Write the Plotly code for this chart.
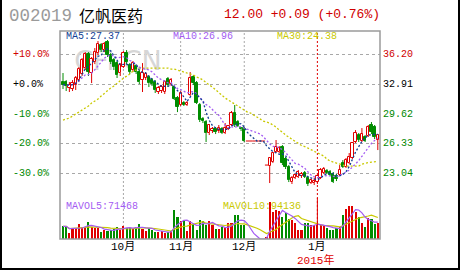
import plotly.graph_objects as go
import pandas as pd

# ---------------- data ----------------
opens = [33.16, 33.16, 32.50, 32.39, 32.83, 33.38, 34.05, 34.71, 36.26, 34.16,
         35.37, 36.37, 37.26, 36.70, 37.59, 36.15, 35.60, 35.26, 34.16, 34.82,
         36.37, 35.04, 34.49, 34.93, 34.27, 33.38, 33.61, 33.72, 33.38, 33.16,
         32.06, 32.17, 32.06, 33.50, 32.94, 32.61, 31.39, 30.62, 30.84, 30.62,
         31.72, 33.72, 33.05, 30.62, 29.07, 28.74, 27.52, 27.74, 27.96, 27.74,
         27.96, 27.52, 27.96, 28.41, 29.73, 28.74, 28.07, 28.07, 26.64, 26.64,
         26.64, 26.64, 26.64, 26.64, 23.98, 23.87, 24.31, 25.42, 25.42, 25.97,
         24.65, 23.76, 22.10, 22.55, 22.66, 22.77, 23.10, 22.55, 21.99, 21.99,
         22.10, 22.55, 23.10, 23.32, 23.21, 22.99, 22.77, 22.88, 24.20, 23.76,
         24.20, 24.76, 26.53, 27.30, 26.64, 27.08, 27.19, 28.41, 28.19, 26.75]
highs = [34.16, 33.38, 33.16, 33.38, 33.83, 34.82, 35.82, 36.48, 36.48, 35.93,
         36.92, 37.70, 37.48, 37.59, 37.81, 36.37, 35.82, 35.49, 35.26, 36.59,
         36.70, 35.26, 35.49, 35.15, 34.49, 35.26, 34.27, 33.94, 33.61, 33.38,
         32.72, 32.83, 33.38, 33.72, 33.61, 32.83, 31.61, 32.17, 31.06, 31.06,
         34.27, 33.94, 33.27, 30.84, 29.29, 28.96, 28.52, 28.19, 28.19, 28.41,
         28.19, 28.63, 28.41, 29.96, 30.62, 28.96, 28.19, 28.19, 26.64, 26.64,
         26.64, 26.64, 26.64, 26.64, 23.98, 24.87, 25.42, 26.75, 26.08, 26.19,
         24.87, 23.98, 22.77, 22.99, 23.43, 23.21, 23.32, 22.77, 22.43, 22.55,
         22.88, 23.65, 23.76, 23.54, 23.43, 23.21, 22.99, 23.98, 24.53, 24.76,
         25.31, 26.53, 27.85, 27.52, 28.07, 27.30, 28.41, 28.74, 28.41, 27.41]
lows = [32.39, 32.17, 32.06, 32.17, 32.28, 33.16, 33.83, 34.49, 33.83, 33.05,
        35.15, 36.15, 36.48, 36.48, 35.93, 35.15, 34.49, 33.61, 33.83, 34.71,
        35.15, 34.05, 34.27, 34.05, 32.94, 32.06, 33.38, 32.61, 32.72, 31.95,
        31.84, 31.95, 31.84, 32.61, 32.72, 31.17, 29.84, 30.51, 30.51, 30.51,
        31.61, 32.83, 30.73, 28.74, 28.63, 26.53, 27.30, 27.52, 27.41, 27.52,
        27.41, 27.41, 27.85, 28.30, 28.19, 28.19, 27.74, 26.53, 26.64, 26.64,
        26.64, 26.64, 26.64, 26.64, 23.98, 21.99, 24.20, 25.31, 25.31, 23.98,
        23.54, 22.10, 21.88, 22.43, 22.55, 22.55, 22.55, 21.66, 21.88, 21.77,
        21.88, 22.43, 22.99, 22.99, 22.77, 21.99, 22.21, 22.77, 23.65, 23.65,
        24.09, 24.65, 26.42, 26.53, 26.53, 26.53, 27.08, 27.41, 26.86, 25.64]
closes = [32.88, 32.77, 32.83, 33.05, 33.61, 34.60, 35.60, 36.26, 34.27, 35.71,
          36.48, 37.37, 36.70, 37.37, 36.15, 35.37, 34.82, 33.94, 35.04, 36.37,
          35.37, 34.27, 35.26, 34.27, 33.16, 34.16, 34.05, 33.05, 32.94, 32.28,
          32.50, 32.61, 33.16, 32.83, 33.38, 31.28, 30.40, 31.95, 30.62, 30.84,
          33.61, 33.05, 30.84, 28.96, 28.85, 27.52, 28.41, 27.96, 27.63, 28.07,
          27.52, 28.07, 28.30, 29.73, 28.41, 28.30, 27.96, 26.64, 26.64, 26.64,
          26.64, 26.64, 26.64, 26.64, 23.98, 24.76, 25.31, 25.97, 25.86, 24.20,
          23.76, 22.32, 22.55, 22.88, 23.21, 22.99, 22.66, 21.88, 22.32, 22.21,
          22.77, 23.43, 23.54, 23.10, 22.88, 22.10, 22.43, 23.43, 23.76, 24.53,
          24.87, 26.42, 27.52, 26.75, 27.41, 26.64, 28.19, 27.63, 27.08, 27.30]
ma30 = [28.96, 29.07, 29.18, 29.40, 29.62, 29.84, 30.06, 30.29, 30.51, 30.84,
        31.06, 31.28, 31.61, 31.94, 32.17, 32.50, 32.72, 33.05, 33.38, 33.60,
        33.82, 34.05, 34.38, 34.49, 34.60, 34.71, 34.71, 34.71, 34.71, 34.71,
        34.71, 34.71, 34.71, 34.71, 34.60, 34.60, 34.49, 34.38, 34.27, 34.16,
        34.05, 33.94, 33.71, 33.60, 33.38, 33.05, 32.83, 32.61, 32.28, 31.94,
        31.72, 31.39, 31.17, 30.95, 30.73, 30.51, 30.29, 30.06, 29.84, 29.73,
        29.51, 29.29, 29.07, 28.85, 28.74, 28.63, 28.41, 28.18, 27.85, 27.63,
        27.30, 27.08, 26.86, 26.64, 26.42, 26.14, 26.03, 25.86, 25.64, 25.47,
        25.31, 25.20, 24.98, 24.64, 24.42, 24.31, 24.20, 24.09, 23.98, 23.87,
        23.87, 23.87, 23.87, 23.87, 24.09, 24.20, 24.26, 24.31, 24.37, 24.38]
volumes = [55100, 55100, 26000, 47700, 47700, 65100, 52100, 52100, 72500, 52100,
           47700, 47700, 30400, 37800, 36000, 40400, 43400, 52100, 40400, 57700,
           47700, 47700, 43400, 52100, 66400, 44700, 33400, 47700, 40400, 29100,
           29100, 33400, 26000, 30400, 33400, 124600, 94200, 76800, 76800, 36000,
           76800, 65100, 40400, 83800, 76800, 59500, 76800, 62100, 43400, 43400,
           52100, 47700, 69400, 69400, 104200, 104200, 60800, 60800, 0, 0,
           0, 0, 0, 0, 8700, 160600, 117200, 125900, 121500, 95500,
           112800, 86800, 82500, 69400, 39100, 39100, 69400, 69400, 59500, 60800,
           60800, 60800, 60800, 47700, 39100, 39100, 47700, 52100, 104200, 130200,
           143200, 143200, 117200, 95500, 69400, 52100, 91100, 86800, 65100, 70300]

month_idx = [19, 37, 57, 80]
month_labels = ["10月", "11月", "12月", "1月"]
year_label = "2015年"
price_levels = [36.20, 32.91, 29.62, 26.33, 23.04]
price_labels = ["36.20", "32.91", "29.62", "26.33", "23.04"]
pct_labels = ["+10.0%", "+0.0%", "-10.0%", "-20.0%", "-30.0%"]
code_text = "002019"
name_text = "亿帆医药"
quote_text = "12.00 +0.09 (+0.76%)"
ma_texts = ["MA5:27.37", "MA10:26.96", "MA30:24.38"]
mavol_texts = ["MAVOL5:71468", "MAVOL10:94136"]
watermark = "CFi.CN"

# ---------------- styling ----------------
RED = "#e00000"
GREEN = "#008c00"
MA5C = "#123f95"
MA10C = "#a45cf2"
MA30C = "#c9c900"
MONO = "Liberation Mono, DejaVu Sans Mono, Noto Sans CJK SC, monospace"
CJK = "Noto Sans CJK SC, sans-serif"

W, H = 460, 270
L, R, T, B = 60, 80, 31, 31
PW, PH = W - L - R, H - T - B


def px(xpix):
    return (xpix - L) / PW


def py(ypix):
    return (H - B - ypix) / PH


n = len(closes)
idx = list(range(n))
s_close = pd.Series(closes)
ma5 = s_close.rolling(5, min_periods=1).mean().tolist()
ma10 = s_close.rolling(10, min_periods=1).mean().tolist()
s_vol = pd.Series(volumes)
mavol5 = s_vol.rolling(5, min_periods=1).mean().tolist()
mavol10 = s_vol.rolling(10, min_periods=1).mean().tolist()

up = [c >= o for o, c in zip(opens, closes)]
doji = [abs(c - o) < 0.03 for o, c in zip(opens, closes)]

fig = go.Figure()

# watermark on the base subplot (drawn beneath the price layer)
fig.add_trace(go.Scatter(x=[17.3], y=[0.80], mode="text", text=[watermark],
                         textfont=dict(size=27, color="#d6d6d6", family="DejaVu Sans"),
                         xaxis="x", yaxis="y", hoverinfo="skip", showlegend=False))

# candle bodies
bx, bbase, bh, bfill, bline = [], [], [], [], []
for i in idx:
    if doji[i]:
        continue
    bx.append(i)
    bbase.append(min(opens[i], closes[i]))
    bh.append(abs(closes[i] - opens[i]))
    bfill.append("white" if up[i] else GREEN)
    bline.append(RED if up[i] else GREEN)
fig.add_trace(go.Bar(x=bx, y=bh, base=bbase, width=0.72,
                     marker=dict(color=bfill, line=dict(color=bline, width=1)),
                     xaxis="x", yaxis="y2", showlegend=False, hoverinfo="skip"))

# wicks and doji ticks
for col, cond in ((RED, True), (GREEN, False)):
    wx, wy = [], []
    for i in idx:
        if doji[i] or up[i] != cond:
            continue
        top = max(opens[i], closes[i])
        bot = min(opens[i], closes[i])
        if highs[i] > top:
            wx += [i, i, None]
            wy += [top, highs[i], None]
        if lows[i] < bot:
            wx += [i, i, None]
            wy += [bot, lows[i], None]
    fig.add_trace(go.Scatter(x=wx, y=wy, mode="lines", line=dict(color=col, width=1),
                             xaxis="x", yaxis="y2", showlegend=False, hoverinfo="skip"))

dx, dy, lx, ly = [], [], [], []
for i in idx:
    if not doji[i]:
        continue
    half = 0.5 if highs[i] == lows[i] else 0.4
    dx += [i - half, i + half, None]
    dy += [closes[i], closes[i], None]
    if lows[i] < closes[i]:
        lx += [i, i, None]
        ly += [closes[i], lows[i], None]
    if highs[i] > closes[i]:
        lx += [i, i, None]
        ly += [closes[i], highs[i], None]
fig.add_trace(go.Scatter(x=dx + lx, y=dy + ly, mode="lines", line=dict(color=RED, width=1),
                         xaxis="x", yaxis="y2", showlegend=False, hoverinfo="skip"))

# moving averages
for vals, col in ((ma30, MA30C), (ma10, MA10C), (ma5, MA5C)):
    fig.add_trace(go.Scatter(x=idx, y=vals, mode="lines",
                             line=dict(color=col, width=1.3, dash="2px,2px"),
                             xaxis="x", yaxis="y2", showlegend=False, hoverinfo="skip"))

# volume
vx = [i for i in idx if volumes[i] > 0]
fig.add_trace(go.Bar(x=vx, y=[volumes[i] for i in vx], width=0.66,
                     marker=dict(color=[RED if up[i] else GREEN for i in vx], line=dict(width=0)),
                     xaxis="x", yaxis="y3", showlegend=False, hoverinfo="skip"))
fig.add_trace(go.Scatter(x=idx, y=mavol10, mode="lines", line=dict(color=MA30C, width=1.2),
                         xaxis="x", yaxis="y3", showlegend=False, hoverinfo="skip"))
fig.add_trace(go.Scatter(x=idx, y=mavol5, mode="lines", line=dict(color=MA10C, width=1.2),
                         xaxis="x", yaxis="y3", showlegend=False, hoverinfo="skip"))

# ---------------- layout ----------------
price_dom = [py(190), 1]
fig.update_layout(
    width=W, height=H, margin=dict(l=L, r=R, t=T, b=B),
    paper_bgcolor="white", plot_bgcolor="white", showlegend=False,
    barmode="overlay", bargap=0,
    xaxis=dict(range=[-0.943, 99.69], visible=False, fixedrange=True, anchor="y"),
    yaxis=dict(domain=price_dom, range=[0, 1], visible=False),
    yaxis2=dict(overlaying="y", range=[21.22, 38.81], tickvals=price_levels,
                showgrid=True, gridcolor="#a8a8a8", griddash="dot", gridwidth=1,
                showticklabels=False, zeroline=False, showline=False, ticks=""),
    yaxis3=dict(domain=[0, py(200)], range=[0, 169260], visible=False, anchor="x"),
)

shapes = []
for k, m in enumerate(month_idx):
    colr = RED if k == 3 else "#a8a8a8"
    shapes.append(dict(type="line", xref="x", yref="paper", x0=m, x1=m, y0=0, y1=1,
                       line=dict(color=colr, width=1, dash="2px,2px"), layer="below"))
shapes.append(dict(type="line", xref="x", yref="paper", x0=month_idx[3], x1=month_idx[3],
                   y0=0, y1=py(198), line=dict(color=RED, width=1)))
shapes.append(dict(type="rect", xref="paper", yref="paper", x0=0, x1=1, y0=0, y1=1,
                   line=dict(color="#9a9a9a", width=1.5)))
for (x0, y0, x1, y1) in ((1, 0, 1, 270), (459, 0, 459, 270), (0, 269, 460, 269)):
    shapes.append(dict(type="line", xref="paper", yref="paper", x0=px(x0), x1=px(x1),
                       y0=py(y0), y1=py(y1), line=dict(color="black", width=2)))
fig.update_layout(shapes=shapes)

ann = []


def add(text, x, y, color, size, xanchor="left", family=MONO, xref="paper", yref="paper"):
    ann.append(dict(text=text, x=x, y=y, xref=xref, yref=yref, showarrow=False,
                    xanchor=xanchor, yanchor="middle", font=dict(color=color, size=size, family=family)))


add(code_text, px(7), py(16), "#9a9a9a", 17.5)
add(name_text, px(77), py(15), "black", 16, family=CJK)
add(quote_text, px(382), py(14), "#d00000", 13, xanchor="right")
add(ma_texts[0], px(64), py(36.5), MA5C, 10)
add(ma_texts[1], px(171), py(36.5), MA10C, 10)
add(ma_texts[2], px(275), py(36.5), MA30C, 10)
pct_cols = ["#d00000", "black", "#008800", "#008800", "#008800"]
for lvl, pl, tl, c in zip(price_levels, pct_labels, price_labels, pct_cols):
    add(pl, px(11), lvl, c, 10, yref="y2")
    add(tl, px(381), lvl, c, 10, yref="y2")
for m, lab in zip(month_idx, month_labels):
    add(lab, m, py(247), "black", 11, xanchor="center", xref="x")
add(year_label, month_idx[3] - 0.6, py(260), "#e00000", 11, xanchor="center", xref="x")
add(mavol_texts[0], px(64), py(206.5), MA10C, 10)
add(mavol_texts[1], px(221), py(206.5), MA30C, 10)
fig.update_layout(annotations=ann)

fig.write_html("out.html")
